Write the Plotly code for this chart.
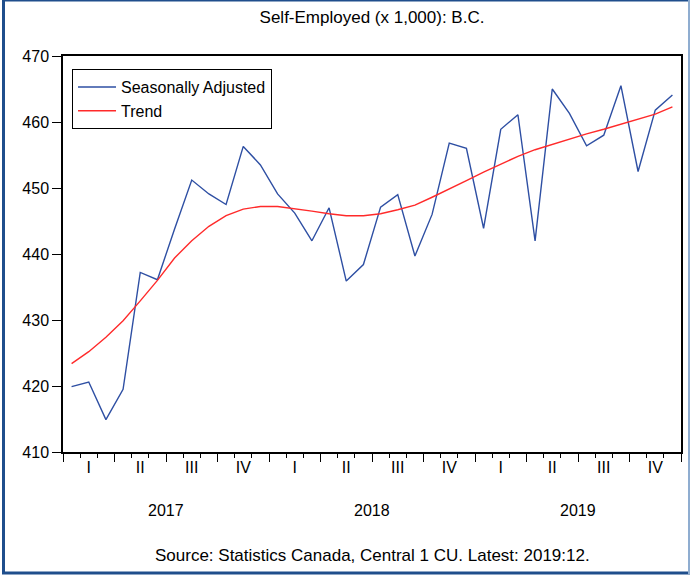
import plotly.graph_objects as go

# Monthly data, 2017:01 .. 2019:12
months = list(range(36))
seasonally_adjusted = [
    419.9, 420.6, 414.9, 419.5, 437.2, 436.1, 443.8, 451.2, 449.1, 447.5, 456.3, 453.5,
    449.1, 446.2, 442.0, 447.0, 435.9, 438.4, 447.1, 449.0, 439.7, 446.0, 456.8, 456.0,
    443.9, 458.9, 461.1, 442.0, 465.0, 461.3, 456.4, 458.0, 465.5, 452.5, 461.8, 464.1,
]
trend = [
    423.4, 425.2, 427.4, 429.9, 432.9, 436.0, 439.4, 442.0, 444.2, 445.8, 446.8, 447.2,
    447.2, 446.9, 446.5, 446.1, 445.8, 445.8, 446.1, 446.7, 447.4, 448.6, 449.8, 451.1,
    452.4, 453.6, 454.8, 455.8, 456.6, 457.5, 458.2, 458.9, 459.7, 460.5, 461.2, 462.3,
]
quarter_labels = ["I", "II", "III", "IV"] * 3
years = ["2017", "2018", "2019"]
y_ticks = [410, 420, 430, 440, 450, 460, 470]

x_mid = [m + 0.5 for m in months]
quarter_bounds = list(range(0, 37, 3))
quarter_centers = [q * 3 + 1.5 for q in range(len(quarter_labels))]
year_centers = [i * 12 + 6 for i in range(len(years))]

FONT = "Liberation Sans, Arial, sans-serif"

fig = go.Figure()
fig.add_trace(go.Scatter(x=x_mid, y=seasonally_adjusted, mode="lines",
                         name="Seasonally Adjusted",
                         line=dict(color="#2E4FA3", width=1.4)))
fig.add_trace(go.Scatter(x=x_mid, y=trend, mode="lines", name="Trend",
                         line=dict(color="#FF2A2A", width=1.4)))
# invisible trace for the quarter label axis
fig.add_trace(go.Scatter(x=[0, 36], y=[410, 410], xaxis="x2", mode="lines",
                         line=dict(width=0), showlegend=False, hoverinfo="skip"))

fig.update_layout(
    width=691, height=579,
    margin=dict(l=63, r=10, t=56, b=127, autoexpand=False),
    paper_bgcolor="white", plot_bgcolor="white",
    font=dict(family=FONT, size=16, color="black"),
    title=dict(text="Self-Employed (x 1,000): B.C.", x=0.5, xref="paper",
               y=1 - 17 / 579, yref="container", yanchor="middle",
               font=dict(size=17, family=FONT)),
    showlegend=True,
    legend=dict(x=0.0146, y=0.967, xanchor="left", yanchor="top",
                bordercolor="black", borderwidth=1, bgcolor="white",
                font=dict(size=16, family=FONT), tracegroupgap=0, itemwidth=38),
    xaxis=dict(range=[0, 36], tickmode="array", tickvals=quarter_bounds,
               showticklabels=False, ticks="outside", ticklen=8, tickwidth=1,
               tickcolor="black", showgrid=False, zeroline=False, automargin=False,
               showline=True, linecolor="black", linewidth=1.5, mirror=True,
               minor=dict(dtick=1, tick0=0, ticks="outside", ticklen=4,
                          tickwidth=1, tickcolor="black", showgrid=False)),
    xaxis2=dict(range=[0, 36], overlaying="x", side="bottom", anchor="y",
                tickmode="array", tickvals=quarter_centers, ticktext=quarter_labels,
                ticks="outside", ticklen=1, tickcolor="rgba(0,0,0,0)",
                showline=False, showgrid=False, zeroline=False, automargin=False,
                tickfont=dict(size=16, family=FONT)),
    yaxis=dict(range=[410, 470], tickmode="array", tickvals=y_ticks,
               ticks="outside", ticklen=9, tickwidth=1, tickcolor="black",
               showgrid=False, zeroline=False, showline=True, linecolor="black",
               linewidth=1.5, mirror=True, automargin=False,
               tickfont=dict(size=16, family=FONT)),
)

for yr, xc in zip(years, year_centers):
    fig.add_annotation(x=xc, xref="x", y=-58 / 396, yref="paper", text=yr,
                       showarrow=False, yanchor="middle",
                       font=dict(size=16, family=FONT))

fig.add_annotation(x=0.5, xref="paper", y=-103 / 396, yref="paper",
                   text="Source: Statistics Canada, Central 1 CU. Latest: 2019:12.",
                   showarrow=False, yanchor="middle", font=dict(size=17, family=FONT))

# outer frame
def px_x(p):
    return (p - 63) / 618

def px_y(p):
    return (452 - p) / 396

dark = "#1F4E8C"
light = "#8FADD0"
fig.add_shape(type="line", xref="paper", yref="paper", x0=px_x(3.5), x1=px_x(3.5),
              y0=px_y(0), y1=px_y(574), line=dict(color=dark, width=3))
fig.add_shape(type="line", xref="paper", yref="paper", x0=px_x(2), x1=px_x(690),
              y0=px_y(573), y1=px_y(573), line=dict(color=dark, width=3))
fig.add_shape(type="line", xref="paper", yref="paper", x0=px_x(2), x1=px_x(690),
              y0=px_y(0.7), y1=px_y(0.7), line=dict(color=dark, width=1.5))
fig.add_shape(type="line", xref="paper", yref="paper", x0=px_x(689), x1=px_x(689),
              y0=px_y(0), y1=px_y(574), line=dict(color=light, width=2))

fig.write_html("out.html", config={"displayModeBar": False},
               post_script="document.body.style.margin='0';document.body.style.overflow='hidden';")
